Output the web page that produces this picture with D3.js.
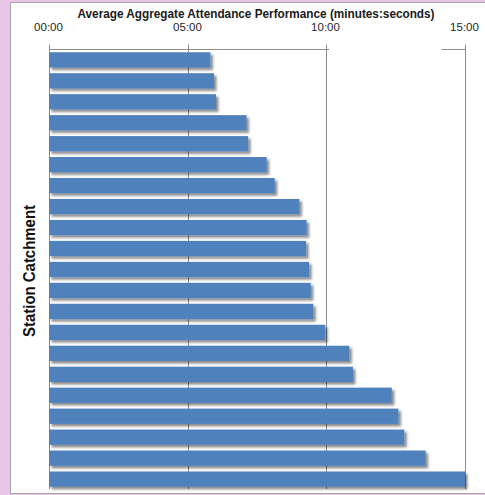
<!DOCTYPE html>
<html>
<head>
<meta charset="utf-8">
<script src="https://cdn.jsdelivr.net/npm/d3@7"></script>
<style>
  html, body { margin: 0; padding: 0; background: #e9c6e7; }
  svg { display: block; }
</style>
</head>
<body>
<svg id="chart" width="485" height="495"></svg>
<script>
// ---- data (minutes) ----
const categories = ["S01","S02","S03","S04","S05","S06","S07","S08","S09","S10","S11",
                    "S12","S13","S14","S15","S16","S17","S18","S19","S20","S21"];
const attendanceMinutes = [5.82, 5.95, 6.02, 7.12, 7.18, 7.85, 8.14, 9.03, 9.29, 9.27, 9.38,
                           9.44, 9.53, 9.96, 10.83, 10.96, 12.36, 12.60, 12.81, 13.58, 15.0];
const tickValues = [0, 5, 10, 15];
const tickLabels = ["00:00", "05:00", "10:00", "15:00"];
const titleText = "Average Aggregate Attendance Performance (minutes:seconds)";
const yTitleText = "Station Catchment";

const svg = d3.select("#chart");

// background and chart frame
svg.append("rect").attr("x", 0).attr("y", 0).attr("width", 485).attr("height", 495).attr("fill", "#e9c6e7");
svg.append("rect").attr("x", 10.5).attr("y", 2.5).attr("width", 480).attr("height", 491)
  .attr("fill", "#ffffff").attr("stroke", "#a6a6a6").attr("stroke-width", 1);

const x = d3.scaleLinear().domain([0, 15]).range([49, 465]);
const y = d3.scaleBand().domain(categories).range([49.5, 489.5]).paddingInner(0.27).paddingOuter(0.13);
const plotTop = 49, plotBottom = 489;

const defs = svg.append("defs");
const f = defs.append("filter").attr("id", "shadow").attr("x", "-5%").attr("y", "-30%").attr("width", "115%").attr("height", "180%");
f.append("feDropShadow").attr("dx", 2.5).attr("dy", 2.5).attr("stdDeviation", 1.3)
  .attr("flood-color", "#000").attr("flood-opacity", 0.45);

// gridlines
svg.append("g").selectAll("line").data(tickValues).join("line")
  .attr("x1", d => Math.round(x(d)) + 0.5).attr("x2", d => Math.round(x(d)) + 0.5)
  .attr("y1", plotTop).attr("y2", plotBottom)
  .attr("stroke", "#8c8c8c").attr("stroke-width", 1);

// top axis
const axis = d3.axisTop(x).tickValues(tickValues)
  .tickFormat((d, i) => tickLabels[i]).tickSize(5).tickPadding(14);
const gAxis = svg.append("g").attr("transform", `translate(0,${plotTop + 0.5})`).call(axis);
gAxis.select(".domain").remove();
gAxis.selectAll(".tick line").attr("stroke", "#8c8c8c")
  .attr("transform", function() { const t = d3.select(this.parentNode).attr("transform"); return null; });
gAxis.selectAll(".tick").attr("transform", d => `translate(${Math.round(x(d)) + 0.5},0)`);
gAxis.selectAll(".tick text").attr("font-family", "'Liberation Sans', Arial, sans-serif")
  .attr("font-size", "11.5px").attr("fill", "#1f1f1f").attr("dx", "-1");

// top domain line (drawn in two pieces as in the reference)
const domainSegs = [[0, 10.1], [14.15, 15]];
svg.append("g").selectAll("line").data(domainSegs).join("line")
  .attr("x1", d => x(d[0])).attr("x2", d => x(d[1]))
  .attr("y1", plotTop + 0.5).attr("y2", plotTop + 0.5)
  .attr("stroke", "#8c8c8c").attr("stroke-width", 1);

// bars
svg.append("g").selectAll("rect").data(attendanceMinutes).join("rect")
  .attr("x", x(0))
  .attr("y", (d, i) => y(categories[i]))
  .attr("width", d => x(d) - x(0))
  .attr("height", y.bandwidth())
  .attr("fill", "#4f81bd")
  .attr("filter", "url(#shadow)");

// titles
svg.append("text").attr("x", 256).attr("y", 18)
  .attr("text-anchor", "middle")
  .attr("font-family", "'Liberation Sans', Arial, sans-serif")
  .attr("font-weight", "bold").attr("font-size", "12px").attr("fill", "#1a1a1a")
  .attr("textLength", 357).attr("lengthAdjust", "spacingAndGlyphs")
  .text(titleText);

svg.append("text")
  .attr("transform", "translate(35,271) rotate(-90)")
  .attr("text-anchor", "middle")
  .attr("font-family", "'Liberation Sans', Arial, sans-serif")
  .attr("font-weight", "bold").attr("font-size", "16px").attr("fill", "#111")
  .attr("textLength", 132).attr("lengthAdjust", "spacingAndGlyphs")
  .text(yTitleText);
</script>
</body>
</html>
